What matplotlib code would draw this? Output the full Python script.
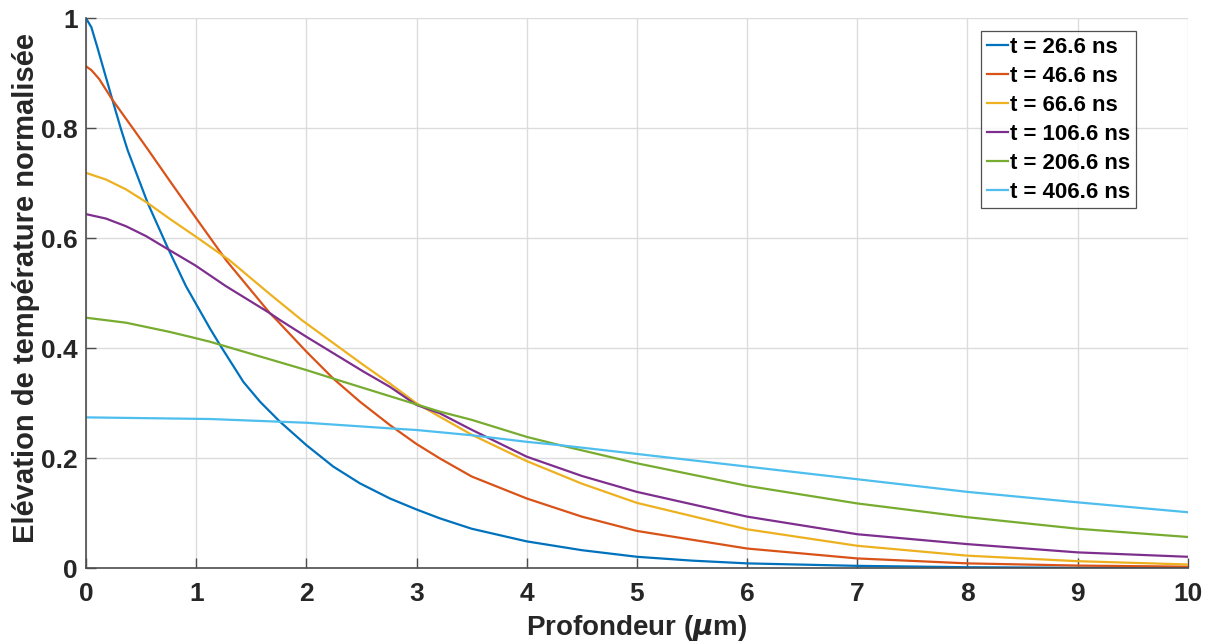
import numpy as np
import matplotlib
matplotlib.use("Agg")
import matplotlib.pyplot as plt

plt.rcParams['font.family'] = ['Liberation Sans', 'DejaVu Sans']
plt.rcParams['font.weight'] = 'bold'

# values (depth in um, normalised temperature rise)
x_26 = [0, 0.048, 0.103, 0.163, 0.239, 0.315, 0.378, 0.56, 0.741, 0.907, 1.125, 1.216, 1.428, 1.579, 1.76, 2.0, 2.244, 2.486, 2.758, 3.0, 3.21, 3.5, 4.0, 4.5, 5.0, 5.5, 6.0, 7.0, 8.0, 9.0, 10.0]
y_26 = [1.0, 0.984, 0.947, 0.905, 0.852, 0.80, 0.76, 0.664, 0.583, 0.513, 0.436, 0.406, 0.339, 0.303, 0.2666, 0.224, 0.185, 0.1545, 0.127, 0.107, 0.091, 0.072, 0.049, 0.033, 0.021, 0.014, 0.009, 0.0045, 0.002, 0.001, 0.0005]

x_46 = [0, 0.048, 0.118, 0.239, 0.436, 0.56, 0.786, 0.998, 1.276, 1.67, 1.73, 2.0, 2.244, 2.486, 2.758, 3.0, 3.21, 3.5, 4.0, 4.5, 5.0, 6.0, 7.0, 8.0, 9.0, 10.0]
y_46 = [0.9127, 0.906, 0.890, 0.852, 0.797, 0.762, 0.697, 0.637, 0.559, 0.4636, 0.4515, 0.394, 0.345, 0.303, 0.2605, 0.226, 0.200, 0.167, 0.127, 0.094, 0.068, 0.036, 0.018, 0.009, 0.005, 0.003]

x_66 = [0, 0.18, 0.363, 0.56, 0.756, 0.99, 1.30, 1.66, 1.957, 2.516, 2.758, 3.0, 3.21, 3.5, 4.0, 4.5, 5.0, 6.0, 7.0, 8.0, 9.0, 10.0]
y_66 = [0.719, 0.707, 0.689, 0.664, 0.636, 0.604, 0.5605, 0.500, 0.4515, 0.370, 0.336, 0.300, 0.2757, 0.243, 0.195, 0.154, 0.119, 0.071, 0.041, 0.023, 0.013, 0.007]

x_106 = [0, 0.18, 0.363, 0.545, 0.741, 0.99, 1.27, 1.66, 1.76, 2.0, 2.516, 2.758, 3.0, 3.21, 3.5, 4.0, 4.5, 5.0, 6.0, 7.0, 8.0, 9.0, 10.0]
y_106 = [0.644, 0.636, 0.622, 0.604, 0.5805, 0.551, 0.513, 0.465, 0.4515, 0.421, 0.358, 0.330, 0.297, 0.282, 0.252, 0.203, 0.168, 0.139, 0.094, 0.062, 0.044, 0.029, 0.021]

x_206 = [0, 0.363, 0.756, 0.944, 1.125, 2.0, 2.244, 2.516, 2.758, 3.0, 3.21, 3.5, 4.0, 4.3, 5.0, 6.0, 7.0, 8.0, 9.0, 10.0]
y_206 = [0.4557, 0.4466, 0.430, 0.421, 0.412, 0.3605, 0.345, 0.328, 0.313, 0.298, 0.285, 0.270, 0.239, 0.224, 0.191, 0.150, 0.118, 0.093, 0.072, 0.057]

x_406 = [0, 1.125, 2.0, 2.758, 3.0, 3.5, 4.0, 4.3, 5.0, 6.0, 7.0, 8.0, 9.0, 10.0]
y_406 = [0.2745, 0.2715, 0.2647, 0.2545, 0.2515, 0.242, 0.230, 0.224, 0.208, 0.185, 0.162, 0.139, 0.120, 0.102]

labels = ['t = 26.6 ns', 't = 46.6 ns', 't = 66.6 ns', 't = 106.6 ns', 't = 206.6 ns', 't = 406.6 ns']
colors = ['#0072BD', '#D95319', '#EDB120', '#7E2F8E', '#77AC30', '#4DBEEE']

fig = plt.figure(figsize=(12.12, 6.44), dpi=100)
ax = fig.add_axes([0.071, 0.1175, 0.909, 0.854])

series = [(x_26, y_26), (x_46, y_46), (x_66, y_66), (x_106, y_106), (x_206, y_206), (x_406, y_406)]
for (xs, ys), lab, c in zip(series, labels, colors):
    ax.plot(xs, ys, color=c, lw=1.6, label=lab)

ax.set_xlim(0, 10)
ax.set_ylim(0, 1)
ax.set_xticks(range(0, 11))
ax.set_yticks([0, 0.2, 0.4, 0.6, 0.8, 1])
ax.set_yticklabels(['0', '0.2', '0.4', '0.6', '0.8', '1'])
ax.grid(True, color='#dcdcdc', lw=1.0)
ax.set_axisbelow(True)
for s in ['top', 'right']:
    ax.spines[s].set_visible(False)
for s in ['left', 'bottom']:
    ax.spines[s].set_color('#4d4d4d')
    ax.spines[s].set_linewidth(1.2)
ax.tick_params(direction='in', length=7, width=1, colors='#4d4d4d', labelcolor='#262626',
               labelsize=19)
ax.tick_params(axis='x', pad=10)
ax.tick_params(axis='y', pad=6)
for t in ax.get_xticklabels() + ax.get_yticklabels():
    t.set_fontweight('bold')

ax.set_xlabel(r'Profondeur ($\mu$m)', fontsize=20, fontweight='bold', color='#262626', labelpad=5)
ax.set_ylabel('Elévation de température normalisée', fontsize=21, fontweight='bold', color='#262626')
ax.yaxis.set_label_coords(-0.042, 0.51)

leg = ax.legend(loc='upper right', bbox_to_anchor=(0.953, 0.977), fontsize=16, frameon=True,
                fancybox=False, edgecolor='#262626', handlelength=0.95, handletextpad=0.1,
                borderpad=0.25, labelspacing=0.36, borderaxespad=0)
leg.get_frame().set_linewidth(0.9)
for t in leg.get_texts():
    t.set_fontweight('bold')

fig.savefig('out.png', dpi=100)
